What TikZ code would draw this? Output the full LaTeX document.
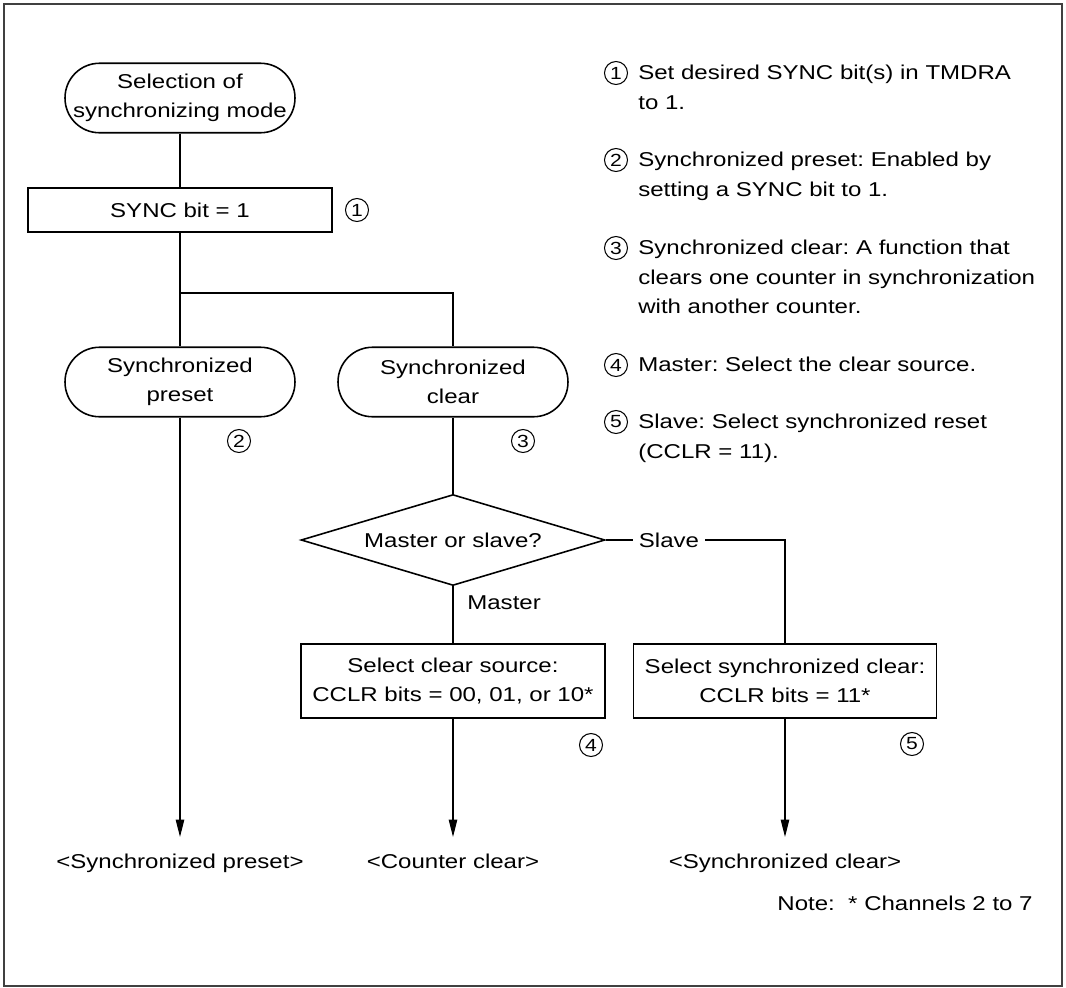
\documentclass[tikz,border=0pt]{standalone}
\usepackage{fontspec}
\setmainfont[FakeStretch=1.2]{Liberation Sans}
\usepackage{tikz}
\usetikzlibrary{arrows.meta,shapes.geometric}
\tikzset{
  termnode/.style={rectangle,draw,line width=0.9pt,rounded corners=0.69cm,minimum width=4.6cm,minimum height=1.39cm,inner sep=0pt,align=center},
  procnode/.style={rectangle,draw,line width=0.9pt,minimum width=6.08cm,minimum height=0.88cm,inner sep=0pt,align=center},
  decnode/.style={diamond,draw,line width=0.9pt,aspect=3.34,minimum width=6.08cm,minimum height=1.82cm,inner sep=0pt},
  numnode/.style={circle,draw,line width=0.6pt,minimum size=4.6mm,inner sep=0pt,font=\fontsize{10pt}{10pt}\selectfont},
  notenode/.style={anchor=north west,inner sep=0pt,align=left},
  endnode/.style={anchor=north,inner xsep=0pt,inner ysep=3.4mm},
  flowline/.style={line width=0.6pt},
  flowarrow/.style={flowline,-{Triangle[length=3.5mm,width=1.7mm]}}
}
\begin{document}
\frenchspacing
\fontsize{11.4pt}{16.8pt}\selectfont
\begin{tikzpicture}[x=0.02cm,y=-0.02cm]
  \useasboundingbox (0,0) rectangle (1066,988);
  \draw[line width=0.9pt,draw=black!75] (4,4) rectangle (1062,986);
  % main column
  \node[termnode] (start) at (180,98) {Selection of\\synchronizing mode};
  \node[procnode] (sync) at (180,210) {SYNC bit = 1};
  \node[numnode] (c1) at (357,210) {1};
  \coordinate (split) at (180,293);
  \node[termnode] (pre) at (180,382) {Synchronized\\preset};
  \node[termnode] (clr) at (453,382) {Synchronized\\clear};
  \node[numnode] (c2) at (239,441) {2};
  \node[numnode] (c3) at (523,441) {3};
  \node[decnode] (ask) at (453,540) {Master or slave?};
  \node[anchor=west,inner sep=0pt] (mlbl) at (467,603) {Master};
  \node[fill=white,inner xsep=1.2mm,inner ysep=0pt] (slbl) at (669,540) {Slave};
  \coordinate (scorner) at (785,540);
  \node[procnode,minimum height=1.48cm] (msel) at (453,681) {Select clear source:\\CCLR bits = 00, 01, or 10*};
  \node[procnode,minimum height=1.48cm,minimum width=6.06cm] (ssel) at (785,681) {Select synchronized clear:\\CCLR bits = 11*};
  \node[numnode] (c4) at (591,745) {4};
  \node[numnode] (c5) at (912,744) {5};
  \node[endnode] (opre) at (180,837) {<Synchronized preset>};
  \node[endnode] (ocnt) at (453,837) {<Counter clear>};
  \node[endnode] (osync) at (785,837) {<Synchronized clear>};
  \draw[flowline] (start) -- (sync);
  \draw[flowline] (sync) -- (pre);
  \draw[flowline] (split) -| (clr);
  \draw[flowline] (clr) -- (ask);
  \draw[flowline] (ask) -- (msel);
  \draw[flowline] (ask.east) -- (slbl) -- (scorner) -- (ssel);
  \draw[flowarrow] (pre) -- (opre);
  \draw[flowarrow] (msel) -- (ocnt);
  \draw[flowarrow] (ssel) -- (osync);
  % notes
  \node[numnode] (n1) at (616,73) {1};
  \node[notenode] (t1) at (638,65) {Set desired SYNC bit(s) in TMDRA\\to 1.};
  \node[numnode] (n2) at (616,160) {2};
  \node[notenode] (t2) at (638,152) {Synchronized preset: Enabled by\\setting a SYNC bit to 1.};
  \node[numnode] (n3) at (616,248) {3};
  \node[notenode] (t3) at (638,240) {Synchronized clear: A function that\\clears one counter in synchronization\\with another counter.};
  \node[numnode] (n4) at (616,365) {4};
  \node[notenode] (t4) at (638,357) {Master: Select the clear source.};
  \node[numnode] (n5) at (616,422) {5};
  \node[notenode] (t5) at (638,414) {Slave: Select synchronized reset\\(CCLR = 11).};
  \node[anchor=east,inner sep=0pt] (note) at (1033,903) {Note:\ \ * Channels 2 to 7};
\end{tikzpicture}
\end{document}
